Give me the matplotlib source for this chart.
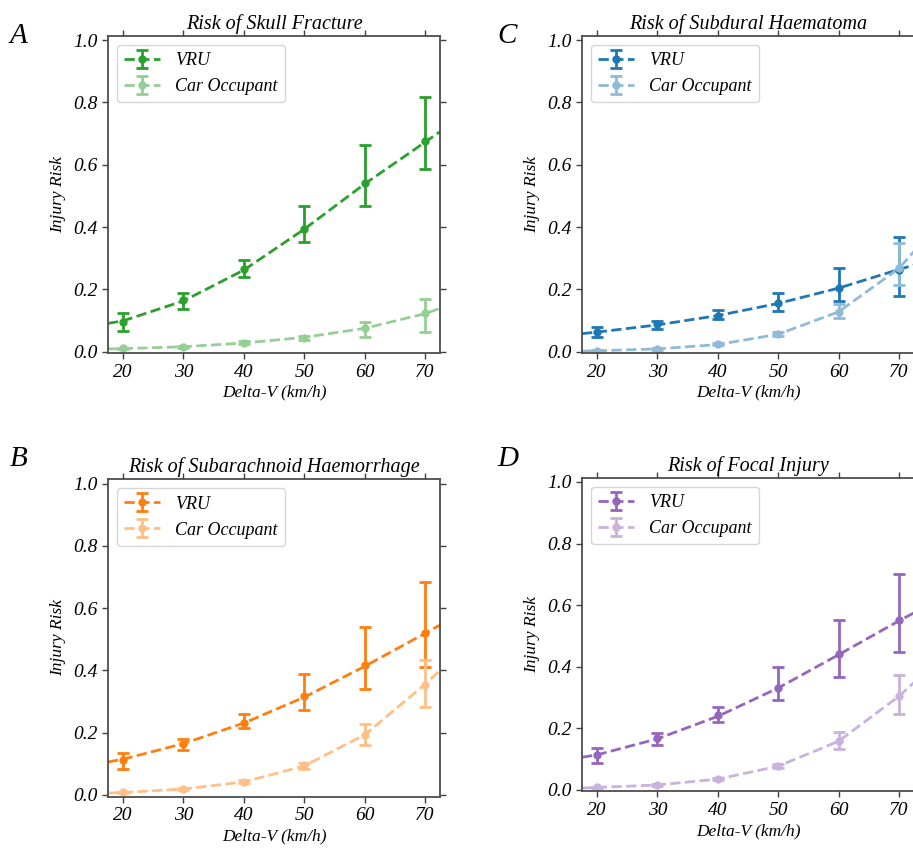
import matplotlib.pyplot as plt
import numpy as np

plt.rcParams['font.family'] = ['Liberation Serif', 'DejaVu Serif']
plt.rcParams['font.style'] = 'italic'

speeds = [20, 30, 40, 50, 60, 70]
# fitted curve sampled at the axis edges and at each speed
fit_x = [17.5, 20, 30, 40, 50, 60, 70, 72.5]

# A - skull fracture
skull_vru = [0.096, 0.166, 0.264, 0.393, 0.540, 0.676]
skull_vru_lo = [0.067, 0.137, 0.241, 0.351, 0.468, 0.586]
skull_vru_hi = [0.123, 0.187, 0.294, 0.468, 0.663, 0.818]
skull_vru_fit = [0.091, 0.099, 0.163, 0.262, 0.393, 0.538, 0.672, 0.706]
skull_car = [0.011, 0.016, 0.029, 0.045, 0.075, 0.123]
skull_car_lo = [0.009, 0.013, 0.025, 0.039, 0.048, 0.064]
skull_car_hi = [0.013, 0.019, 0.033, 0.052, 0.096, 0.168]
skull_car_fit = [0.009, 0.010, 0.016, 0.028, 0.046, 0.075, 0.122, 0.139]

# B - subarachnoid haemorrhage
sah_vru = [0.113, 0.164, 0.232, 0.318, 0.416, 0.520]
sah_vru_lo = [0.085, 0.143, 0.215, 0.273, 0.339, 0.410]
sah_vru_hi = [0.136, 0.180, 0.260, 0.389, 0.541, 0.684]
sah_vru_fit = [0.106, 0.115, 0.165, 0.231, 0.314, 0.413, 0.519, 0.546]
sah_car = [0.008, 0.019, 0.042, 0.095, 0.193, 0.353]
sah_car_lo = [0.006, 0.016, 0.037, 0.085, 0.161, 0.284]
sah_car_hi = [0.010, 0.022, 0.047, 0.104, 0.228, 0.435]
sah_car_fit = [0.006, 0.008, 0.019, 0.042, 0.093, 0.193, 0.355, 0.400]

# C - subdural haematoma
sdh_vru = [0.062, 0.088, 0.116, 0.156, 0.204, 0.263]
sdh_vru_lo = [0.048, 0.072, 0.104, 0.132, 0.163, 0.180]
sdh_vru_hi = [0.080, 0.099, 0.134, 0.190, 0.268, 0.369]
sdh_vru_fit = [0.058, 0.063, 0.086, 0.116, 0.155, 0.204, 0.264, 0.278]
sdh_car = [0.003, 0.009, 0.024, 0.056, 0.129, 0.268]
sdh_car_lo = [0.002, 0.007, 0.020, 0.050, 0.109, 0.215]
sdh_car_hi = [0.004, 0.011, 0.028, 0.062, 0.152, 0.349]
sdh_car_fit = [0.002, 0.003, 0.009, 0.023, 0.056, 0.128, 0.267, 0.322]

# D - focal injury
focal_vru = [0.113, 0.167, 0.242, 0.331, 0.441, 0.551]
focal_vru_lo = [0.086, 0.145, 0.220, 0.292, 0.368, 0.449]
focal_vru_hi = [0.137, 0.185, 0.269, 0.398, 0.552, 0.701]
focal_vru_fit = [0.106, 0.114, 0.166, 0.239, 0.331, 0.439, 0.549, 0.575]
focal_car = [0.008, 0.016, 0.035, 0.077, 0.159, 0.304]
focal_car_lo = [0.006, 0.013, 0.031, 0.071, 0.134, 0.245]
focal_car_hi = [0.010, 0.019, 0.039, 0.084, 0.188, 0.373]
focal_car_fit = [0.006, 0.008, 0.016, 0.035, 0.077, 0.158, 0.304, 0.349]

panels = [
    ('A', (0.011, 0.957), 'Risk of Skull Fracture', [0.1183, 0.5834, 0.3636, 0.3745],
     '#2ca02c', '#95cf95',
     (skull_vru, skull_vru_lo, skull_vru_hi, skull_vru_fit),
     (skull_car, skull_car_lo, skull_car_hi, skull_car_fit)),
    ('C', (0.545, 0.957), 'Risk of Subdural Haematoma', [0.6375, 0.5834, 0.3636, 0.3745],
     '#1f77b4', '#8fbbd9',
     (sdh_vru, sdh_vru_lo, sdh_vru_hi, sdh_vru_fit),
     (sdh_car, sdh_car_lo, sdh_car_hi, sdh_car_fit)),
    ('B', (0.011, 0.459), 'Risk of Subarachnoid Haemorrhage', [0.1183, 0.0607, 0.3636, 0.3740],
     '#ff7f0e', '#ffbf86',
     (sah_vru, sah_vru_lo, sah_vru_hi, sah_vru_fit),
     (sah_car, sah_car_lo, sah_car_hi, sah_car_fit)),
    ('D', (0.545, 0.459), 'Risk of Focal Injury', [0.6375, 0.0667, 0.3636, 0.3700],
     '#9467bd', '#c9b2dd',
     (focal_vru, focal_vru_lo, focal_vru_hi, focal_vru_fit),
     (focal_car, focal_car_lo, focal_car_hi, focal_car_fit)),
]

fig = plt.figure(figsize=(9.13, 8.48), dpi=100)
eb_style = dict(ms=5, elinewidth=2, capsize=4, capthick=2, lw=2)

for letter, letter_pos, title, rect, dark, light, vru, car in panels:
    ax = fig.add_axes(rect)
    for (vals, lo, hi, fit), col, lab in [(vru, dark, 'VRU'), (car, light, 'Car Occupant')]:
        vals = np.array(vals)
        yerr = [vals - np.array(lo), np.array(hi) - vals]
        ax.plot(fit_x, fit, ls='--', color=col, lw=2)
        ax.errorbar(speeds, vals, yerr=yerr, fmt='o', ls='none', color=col, **eb_style)
        # proxy for the legend entry (dashed line + error bar)
        ax.errorbar([np.nan], [np.nan], yerr=[[np.nan], [np.nan]], fmt='o', ls='--',
                    color=col, label=lab, **eb_style)
    ax.set_xlim(17.5, 72.5)
    ax.set_ylim(-0.005, 1.014)
    ax.set_xticks(speeds)
    ax.set_yticks(np.arange(0, 1.01, 0.2))
    ax.set_yticklabels(['%.1f' % t for t in np.arange(0, 1.01, 0.2)])
    ax.tick_params(top=True, right=True, direction='out', length=4, width=1,
                   color='0.25', labelsize=14)
    for s in ax.spines.values():
        s.set_color('0.3')
        s.set_linewidth(1.3)
    ax.set_title(title, fontsize=14.5, pad=5)
    ax.set_xlabel('Delta-V (km/h)', fontsize=12.5, labelpad=3)
    ax.set_ylabel('Injury Risk', fontsize=12.5, labelpad=5)
    ax.legend(loc='upper left', fontsize=13, handlelength=2.0, framealpha=0.8)
    fig.text(letter_pos[0], letter_pos[1], letter, fontsize=21, ha='left', va='center')

fig.savefig('out.png', dpi=100)
